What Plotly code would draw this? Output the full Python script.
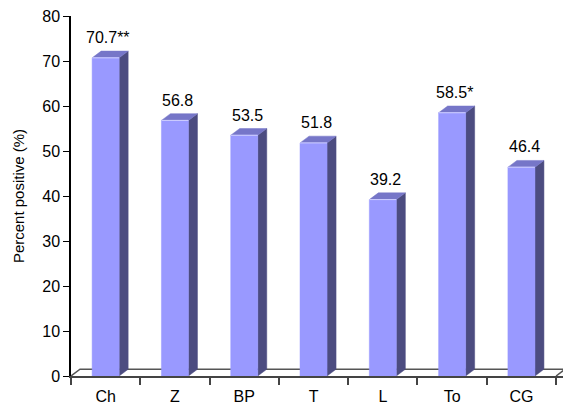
import plotly.graph_objects as go

categories = ["Ch", "Z", "BP", "T", "L", "To", "CG"]
values = [70.7, 56.8, 53.5, 51.8, 39.2, 58.5, 46.4]
value_labels = ["70.7**", "56.8", "53.5", "51.8", "39.2", "58.5*", "46.4"]
y_ticks = [0, 10, 20, 30, 40, 50, 60, 70, 80]

# geometry (axis units)
W = 0.39      # bar front width
DX = 0.13     # depth x offset
DY = 1.5      # depth y offset
FRONT = "#9999FF"
TOP = "#7676C8"
SIDE = "#4C4C80"

n = len(categories)
xs = list(range(n))

fig = go.Figure()

# floor back line + left/right diagonals
fig.add_trace(go.Scatter(
    x=[-0.5, -0.5 + DX, n - 0.5 + DX, None, n - 0.5, n - 0.5 + DX],
    y=[0, DY, DY, None, 0, DY],
    mode="lines", line=dict(color="#555555", width=1.5),
    hoverinfo="skip", showlegend=False))

fx, fy, sx, sy, tx, ty, hx, hy = [], [], [], [], [], [], [], []
for i, v in zip(xs, values):
    l, r = i - W / 2, i + W / 2
    fx += [l, r, r, l, l, None]
    fy += [0, 0, v, v, 0, None]
    sx += [r, r + DX, r + DX, r, r, None]
    sy += [0, DY, v + DY, v, 0, None]
    tx += [l, r, r + DX, l + DX, l, None]
    ty += [v, v, v + DY, v + DY, v, None]
    hx += [l, r, None]
    hy += [v, v, None]

fig.add_trace(go.Scatter(x=sx, y=sy, mode="lines", fill="toself", fillcolor=SIDE,
                         line=dict(color=SIDE, width=0.5), hoverinfo="skip", showlegend=False))
fig.add_trace(go.Scatter(x=tx, y=ty, mode="lines", fill="toself", fillcolor=TOP,
                         line=dict(color=TOP, width=0.5), hoverinfo="skip", showlegend=False))
fig.add_trace(go.Scatter(x=fx, y=fy, mode="lines", fill="toself", fillcolor=FRONT,
                         line=dict(color=FRONT, width=0.5), hoverinfo="skip", showlegend=False))
fig.add_trace(go.Scatter(x=hx, y=hy, mode="lines", line=dict(color="#D0D0FF", width=1),
                         hoverinfo="skip", showlegend=False))

for i, v, t in zip(xs, values, value_labels):
    fig.add_annotation(x=i + 0.04, y=v + DY, text=t, showarrow=False,
                       xanchor="center", yanchor="bottom", yshift=3,
                       font=dict(size=16, color="black"))

font_family = "Arial, Liberation Sans, sans-serif"
fig.update_layout(
    width=563, height=406,
    margin=dict(l=71, r=0, t=16, b=30),
    paper_bgcolor="white", plot_bgcolor="white",
    font=dict(family=font_family, size=16, color="black"),
    showlegend=False,
    xaxis=dict(
        range=[-0.5, n - 0.5 + 0.1],
        tickmode="array", tickvals=xs, ticktext=categories,
        ticks="", showgrid=False, zeroline=False,
        showline=True, linecolor="#444444", linewidth=2,
        ticklabelstandoff=5,
        tickfont=dict(size=16),
        minor=dict(tickmode="array", tickvals=[i - 0.5 for i in range(n + 1)],
                   ticks="outside", ticklen=7, tickwidth=1.5, tickcolor="#444444",
                   showgrid=False),
        fixedrange=True,
    ),
    yaxis=dict(
        range=[0, 80],
        tickmode="array", tickvals=y_ticks,
        ticks="outside", ticklen=6, tickwidth=1, tickcolor="black",
        showline=True, linecolor="black", linewidth=1.5,
        showgrid=False, zeroline=False,
        tickfont=dict(size=16),
        title=dict(text="Percent positive (%)", font=dict(size=15), standoff=14),
        fixedrange=True,
    ),
)

fig.write_html("out.html")
